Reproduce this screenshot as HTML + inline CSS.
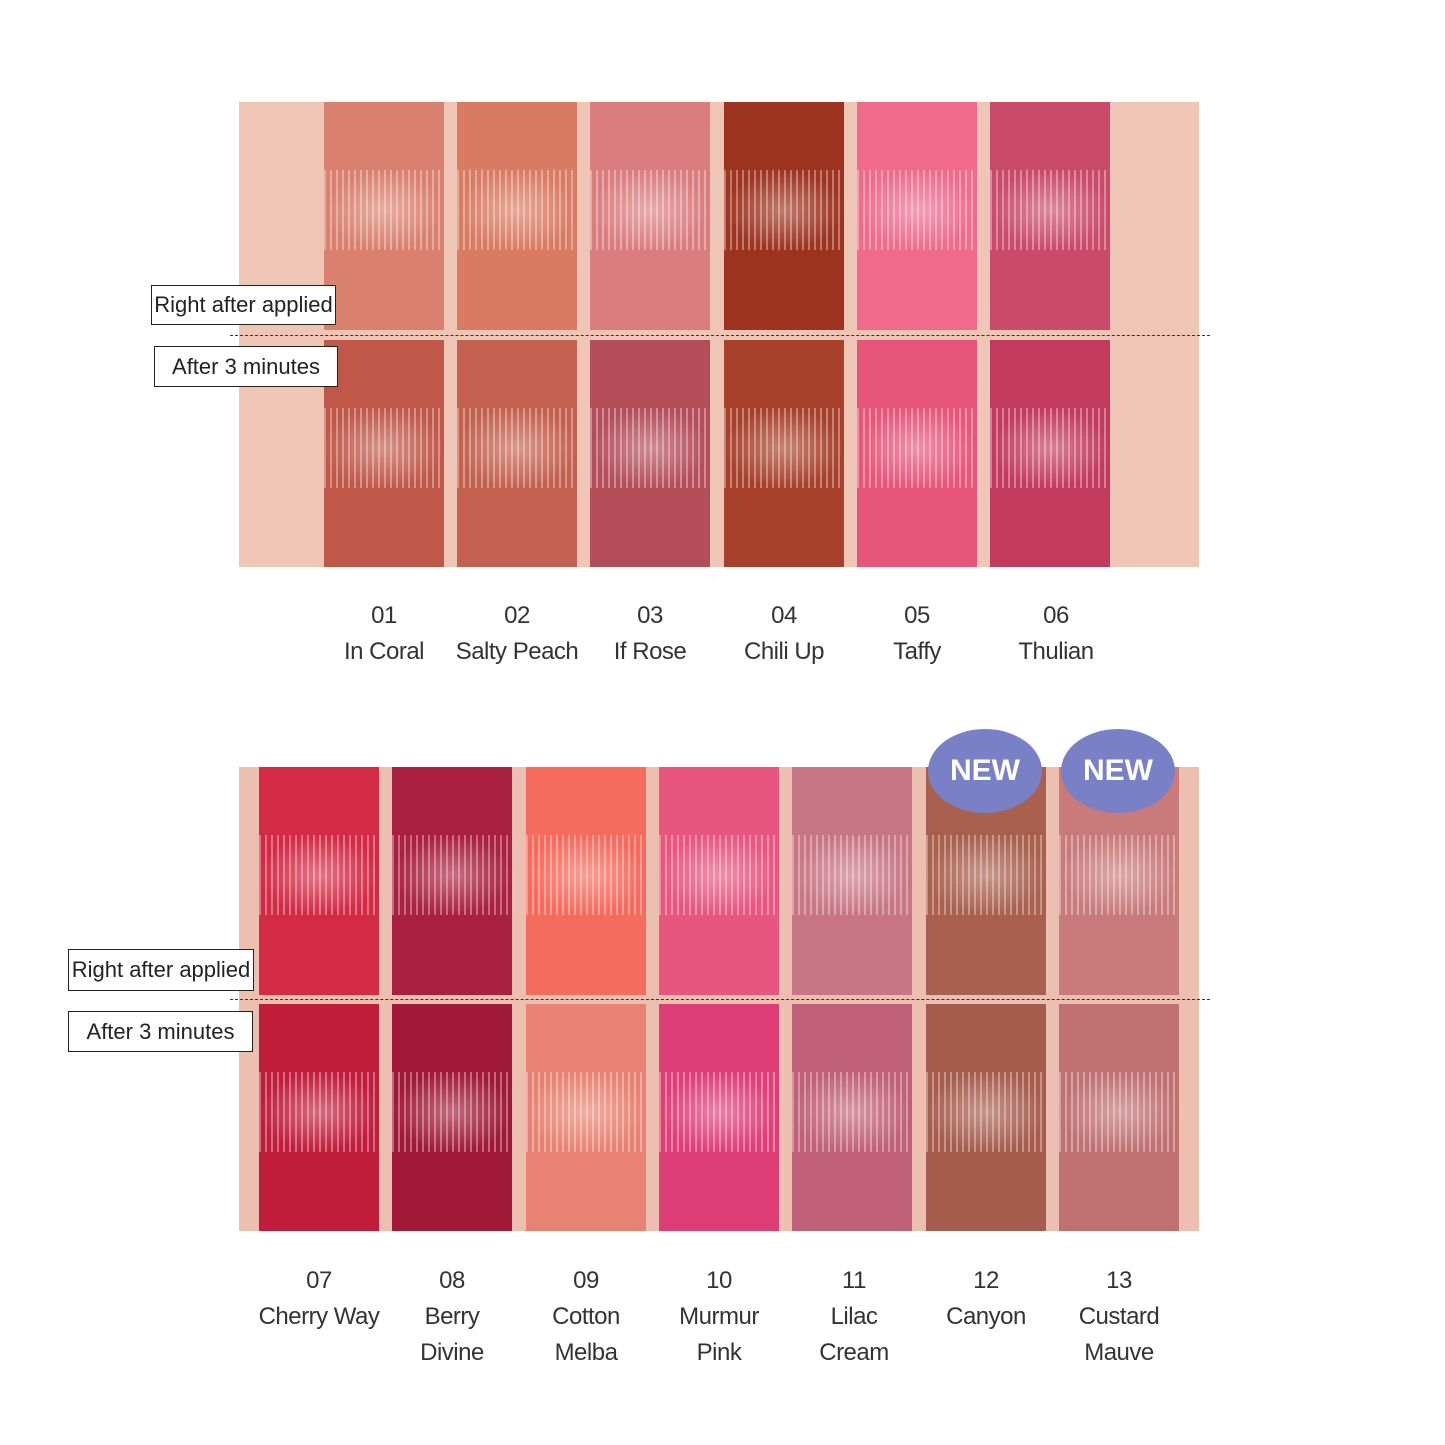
<!DOCTYPE html>
<html><head><meta charset="utf-8"><style>
body{margin:0;width:1445px;height:1445px;background:#fff;position:relative;overflow:hidden;font-family:"Liberation Sans",sans-serif}
.panel{position:absolute;background:#efc6b6}
.sw{position:absolute;width:120px}
.sw::after{content:"";position:absolute;left:0;right:0;top:30%;height:35%;background:repeating-linear-gradient(90deg,rgba(255,255,255,.35) 0 2px,rgba(255,255,255,0) 2px 6px),radial-gradient(ellipse at center,rgba(255,255,255,.35),rgba(255,255,255,0) 70%)}
.dash{position:absolute;height:0;border-top:1.5px dashed #333}
.lab{position:absolute;border:1.5px solid #222;background:#fff;font-size:22px;color:#222;display:flex;align-items:center;justify-content:center;box-sizing:border-box}
.t{position:absolute;width:160px;text-align:center;font-size:24px;color:#333;line-height:36px;letter-spacing:-0.5px}
.new{position:absolute;width:114px;height:84px;border-radius:50%;background:#7a80c6;color:#fff;font-weight:bold;font-size:30px;display:flex;align-items:center;justify-content:center}
</style></head><body>
<div class="panel" style="left:239px;top:102px;width:960px;height:465px"></div>
<div class="panel" style="left:239px;top:767px;width:960px;height:464px;background:#ecbfb0"></div>

<!-- top swatches -->
<div class="sw" style="left:324px;top:102px;height:228px;background:#d9806f"></div>
<div class="sw" style="left:324px;top:340px;height:227px;background:#c0584a"></div>
<div class="sw" style="left:457px;top:102px;height:228px;background:#d97a62"></div>
<div class="sw" style="left:457px;top:340px;height:227px;background:#c4604f"></div>
<div class="sw" style="left:590px;top:102px;height:228px;background:#da7d7f"></div>
<div class="sw" style="left:590px;top:340px;height:227px;background:#b44d5a"></div>
<div class="sw" style="left:724px;top:102px;height:228px;background:#9e3320"></div>
<div class="sw" style="left:724px;top:340px;height:227px;background:#a8412b"></div>
<div class="sw" style="left:857px;top:102px;height:228px;background:#f06a8c"></div>
<div class="sw" style="left:857px;top:340px;height:227px;background:#e8557a"></div>
<div class="sw" style="left:990px;top:102px;height:228px;background:#c94a6a"></div>
<div class="sw" style="left:990px;top:340px;height:227px;background:#c23a5e"></div>

<!-- bottom swatches -->
<div class="sw" style="left:259px;top:767px;height:228px;background:#d32a45"></div>
<div class="sw" style="left:259px;top:1004px;height:227px;background:#c01d3a"></div>
<div class="sw" style="left:392px;top:767px;height:228px;background:#a92040"></div>
<div class="sw" style="left:392px;top:1004px;height:227px;background:#a01a38"></div>
<div class="sw" style="left:526px;top:767px;height:228px;background:#f56b5e"></div>
<div class="sw" style="left:526px;top:1004px;height:227px;background:#e88272"></div>
<div class="sw" style="left:659px;top:767px;height:228px;background:#e8557e"></div>
<div class="sw" style="left:659px;top:1004px;height:227px;background:#de3e76"></div>
<div class="sw" style="left:792px;top:767px;height:228px;background:#c87585"></div>
<div class="sw" style="left:792px;top:1004px;height:227px;background:#c06079"></div>
<div class="sw" style="left:926px;top:767px;height:228px;background:#a9604f"></div>
<div class="sw" style="left:926px;top:1004px;height:227px;background:#a65c4d"></div>
<div class="sw" style="left:1059px;top:767px;height:228px;background:#c97a7a"></div>
<div class="sw" style="left:1059px;top:1004px;height:227px;background:#c07071"></div>

<div class="dash" style="left:230px;top:335px;width:980px"></div>
<div class="dash" style="left:230px;top:999px;width:980px"></div>

<div class="lab" style="left:151px;top:285px;width:185px;height:40px">Right after applied</div>
<div class="lab" style="left:154px;top:346px;width:184px;height:41px">After 3 minutes</div>
<div class="lab" style="left:68px;top:949px;width:186px;height:42px">Right after applied</div>
<div class="lab" style="left:68px;top:1011px;width:185px;height:41px">After 3 minutes</div>

<div class="new" style="left:928px;top:729px">NEW</div>
<div class="new" style="left:1061px;top:729px">NEW</div>

<div class="t" style="left:304px;top:598px">01<br>In Coral</div>
<div class="t" style="left:437px;top:598px">02<br>Salty Peach</div>
<div class="t" style="left:570px;top:598px">03<br>If Rose</div>
<div class="t" style="left:704px;top:598px">04<br>Chili Up</div>
<div class="t" style="left:837px;top:598px">05<br>Taffy</div>
<div class="t" style="left:976px;top:598px">06<br>Thulian</div>

<div class="t" style="left:239px;top:1263px">07<br>Cherry Way</div>
<div class="t" style="left:372px;top:1263px">08<br>Berry<br>Divine</div>
<div class="t" style="left:506px;top:1263px">09<br>Cotton<br>Melba</div>
<div class="t" style="left:639px;top:1263px">10<br>Murmur<br>Pink</div>
<div class="t" style="left:774px;top:1263px">11<br>Lilac<br>Cream</div>
<div class="t" style="left:906px;top:1263px">12<br>Canyon</div>
<div class="t" style="left:1039px;top:1263px">13<br>Custard<br>Mauve</div>
</body></html>
